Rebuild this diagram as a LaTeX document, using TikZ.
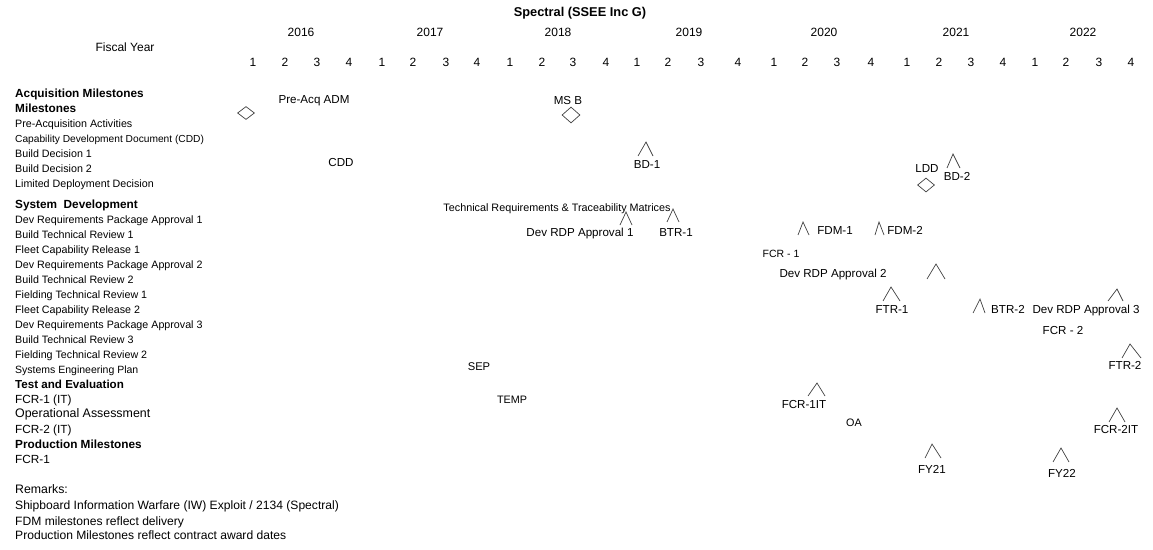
\documentclass[tikz,border=0pt]{standalone}
\usepackage{fontspec}
\setmainfont{Liberation Sans}
\usetikzlibrary{shapes.geometric}
\begin{document}
\begin{tikzpicture}[x=1pt,y=-1pt,
  lab/.style={anchor=base west,inner sep=0pt,font=\fontsize{10.7}{12}\selectfont},
  labb/.style={anchor=base west,inner sep=0pt,font=\fontsize{12.1}{13}\selectfont},
  hdr/.style={anchor=base west,inner sep=0pt,font=\fontsize{11.8}{13}\selectfont\bfseries},
  clab/.style={anchor=base,inner sep=0pt,font=\fontsize{11.6}{13}\selectfont},
  yr/.style={anchor=base,inner sep=0pt,font=\fontsize{12}{14}\selectfont},
  dmd/.style={diamond,draw=black!75,line width=0.7pt,inner sep=0pt,minimum width=18pt,minimum height=15pt},
  cline/.style={draw=black!75,line width=0.7pt}]
\useasboundingbox (0,0) rectangle (1153,549);
% title and header
\node[anchor=base,inner sep=0pt,font=\fontsize{12.8}{14}\selectfont\bfseries] (title) at (580,16) {Spectral (SSEE Inc G)};
\node[yr] (fy) at (125,51) {Fiscal Year};
\foreach \yx/\yl in {301/2016,430/2017,558/2018,689/2019,824/2020,956/2021,1083/2022}
  \node[yr] (y\yl) at (\yx,36) {\yl};
\foreach \qx/\ql [count=\i] in {253/1,285/2,317/3,349/4,382/1,413/2,446/3,477/4,510/1,542/2,573/3,606/4,637/1,668/2,701/3,738/4,774/1,805/2,837/3,871/4,907/1,939/2,971/3,1003/4,1035/1,1066/2,1099/3,1131/4}
  \node[yr] (q\i) at (\qx,66) {\ql};
% left labels
\node[hdr] (h1) at (15,97) {Acquisition Milestones};
\node[hdr] (h2) at (15,112) {Milestones};
\node[lab] (l1) at (15,127) {Pre-Acquisition Activities};
\node[lab,font=\fontsize{10.2}{12}\selectfont] (l2) at (15,142) {Capability Development Document (CDD)};
\node[lab] (l3) at (15,157) {Build Decision 1};
\node[lab] (l4) at (15,172) {Build Decision 2};
\node[lab] (l5) at (15,187) {Limited Deployment Decision};
\node[hdr] (h3) at (15,208) {System\ \ Development};
\node[lab] (l6) at (15,223) {Dev Requirements Package Approval 1};
\node[lab] (l7) at (15,238) {Build Technical Review 1};
\node[lab] (l8) at (15,253) {Fleet Capability Release 1};
\node[lab] (l9) at (15,268) {Dev Requirements Package Approval 2};
\node[lab] (l10) at (15,283) {Build Technical Review 2};
\node[lab] (l11) at (15,298) {Fielding Technical Review 1};
\node[lab] (l12) at (15,313) {Fleet Capability Release 2};
\node[lab] (l13) at (15,328) {Dev Requirements Package Approval 3};
\node[lab] (l14) at (15,343) {Build Technical Review 3};
\node[lab] (l15) at (15,358) {Fielding Technical Review 2};
\node[lab,font=\fontsize{10.5}{12}\selectfont] (l16) at (15,373) {Systems Engineering Plan};
\node[hdr,font=\fontsize{11.6}{13}\selectfont\bfseries] (h4) at (15,388) {Test and Evaluation};
\node[labb,font=\fontsize{11.8}{13}\selectfont] (l17) at (15,403) {FCR-1 (IT)};
\node[labb,font=\fontsize{12.4}{13}\selectfont] (l18) at (15,417.5) {Operational Assessment};
\node[labb,font=\fontsize{11.8}{13}\selectfont] (l19) at (15,433) {FCR-2 (IT)};
\node[hdr] (h5) at (15,448) {Production Milestones};
\node[labb,font=\fontsize{11.8}{13}\selectfont] (l20) at (15,463.5) {FCR-1};
\node[labb,font=\fontsize{12.3}{13}\selectfont] (r0) at (15,493.5) {Remarks:};
\node[labb] (r1) at (15,509.5) {Shipboard Information Warfare (IW) Exploit / 2134 (Spectral)};
\node[labb] (r2) at (15,525) {FDM milestones reflect delivery};
\node[labb] (r3) at (15,539.5) {Production Milestones reflect contract award dates};
% diamonds
\node[dmd,minimum width=17pt,minimum height=13pt] (d1) at (246,113) {};
\node[dmd,minimum height=16pt] (d2) at (571,115) {};
\node[dmd,minimum width=17pt,minimum height=14pt] (d3) at (926,185) {};
% carets: apex x, apex y, left x, right x, base y
\foreach \ax/\ay/\lx/\rx/\by in {646/142/638/653/156, 953/154/947/960/168, 626/212/620/632/225, 673/209/667/679/222, 803/222/798/809/235, 879/222/875/884/235, 936/264/927/945/279, 891/287/883/900/301, 980/299/973/985/313, 1117/289/1108/1123/301, 1130/344/1122/1141/358, 817/383/808/825/396, 1117/408/1109/1125/422, 932/444/925/941/458, 1061/448/1053/1069/462}
  \draw[cline] (\lx,\by) -- (\ax,\ay) -- (\rx,\by);
% chart labels
\node[clab] (preacq) at (314,103.5) {Pre-Acq ADM};
\node[clab] (cdd) at (341,166.5) {CDD};
\node[clab] (msb) at (568,104.5) {MS B};
\node[clab] (bd1) at (647,168.5) {BD-1};
\node[clab] (ldd) at (927,172.5) {LDD};
\node[clab] (bd2) at (957,180.5) {BD-2};
\node[clab,font=\fontsize{10.8}{12}\selectfont] (trtm) at (557,211) {Technical Requirements \& Traceability Matrices};
\node[clab] (rdp1) at (580,236.5) {Dev RDP Approval 1};
\node[clab] (btr1) at (676,236.5) {BTR-1};
\node[clab] (fdm1) at (835,234.5) {FDM-1};
\node[clab] (fdm2) at (905,234.5) {FDM-2};
\node[clab,font=\fontsize{10.5}{12}\selectfont] (fcr1) at (781,257) {FCR - 1};
\node[clab] (rdp2) at (833,277.5) {Dev RDP Approval 2};
\node[clab] (ftr1) at (892,313.5) {FTR-1};
\node[clab,anchor=base west] (btr2) at (991,313.5) {BTR-2};
\node[clab] (rdp3) at (1086,313.5) {Dev RDP Approval 3};
\node[clab] (fcr2) at (1063,334.5) {FCR - 2};
\node[clab] (ftr2) at (1125,369.5) {FTR-2};
\node[clab,font=\fontsize{11.2}{12}\selectfont] (sep) at (479,370) {SEP};
\node[clab,font=\fontsize{10.8}{12}\selectfont] (temp) at (512,403) {TEMP};
\node[clab] (fcr1it) at (804,408.5) {FCR-1IT};
\node[clab,font=\fontsize{10.8}{12}\selectfont] (oa) at (854,426) {OA};
\node[clab] (fy21) at (932,473.5) {FY21};
\node[clab] (fy22) at (1062,477.5) {FY22};
\node[clab] (fcr2it) at (1116,433.5) {FCR-2IT};
\end{tikzpicture}
\end{document}
